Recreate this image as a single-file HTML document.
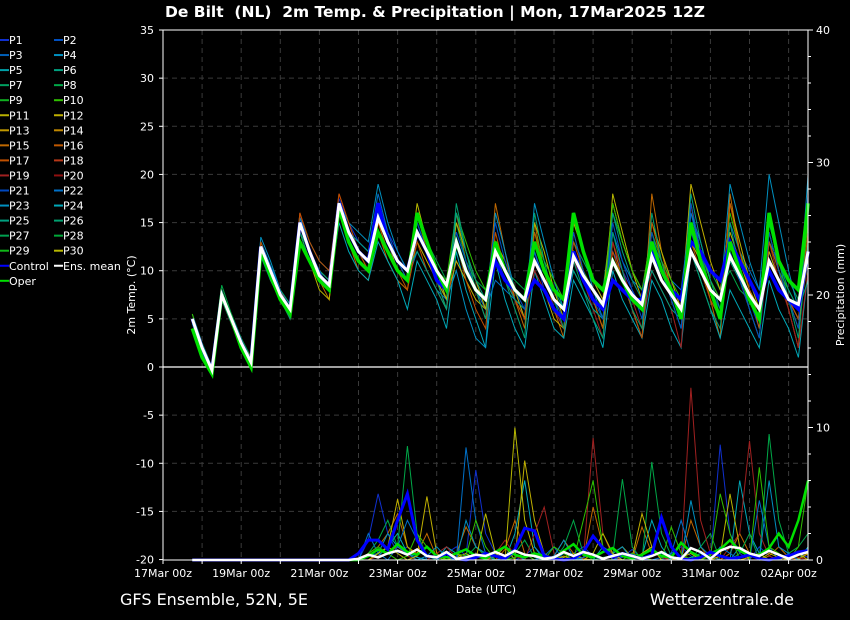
<!DOCTYPE html>
<html><head><meta charset="utf-8">
<style>
html,body{margin:0;padding:0;background:#000;}
svg{display:block;font-family:"DejaVu Sans","Liberation Sans",sans-serif;}
</style></head>
<body>
<svg id="chart" width="850" height="620" viewBox="0 0 850 620" xmlns="http://www.w3.org/2000/svg">
<rect x="0" y="0" width="850" height="620" fill="#000"/>
<text x="435" y="17" fill="#fff" font-size="15.5" font-weight="bold" text-anchor="middle" style="white-space:pre">De Bilt  (NL)  2m Temp. &amp; Precipitation | Mon, 17Mar2025 12Z</text>
<g id="grid"></g>
<g id="precip"></g>
<g id="temps"></g>
<g id="axes"></g>
<g id="legend"></g>
<text x="120" y="605" fill="#fff" font-size="16">GFS Ensemble, 52N, 5E</text>
<text x="794" y="605" fill="#fff" font-size="16" text-anchor="end">Wetterzentrale.de</text>
</svg>
<script>
// ---- data (6-hourly, starting 17Mar 18z) ----
const dateLabels = ["17Mar 00z","19Mar 00z","21Mar 00z","23Mar 00z","25Mar 00z","27Mar 00z","29Mar 00z","31Mar 00z","02Apr 00z"];
const tempTicks = [-20,-15,-10,-5,0,5,10,15,20,25,30,35];
const precipTicks = [0,10,20,30,40];
const memberNames = ["P1","P2","P3","P4","P5","P6","P7","P8","P9","P10","P11","P12","P13","P14","P15","P16","P17","P18","P19","P20","P21","P22","P23","P24","P25","P26","P27","P28","P29","P30"];
const memberColors = ["#1030d0","#0050c0","#0060b8","#0090c0","#00a0a8","#00a080","#00a060","#00a848","#10b020","#30c000","#b8b000","#c0b000","#c09800","#c08800","#c06800","#c05800","#c05000","#b83818","#a02020","#901010","#0048c0","#0070c8","#0090c0","#00a8b8","#00a080","#00a070","#00a050","#00a838","#10b818","#b8b800"];

const ensMean = [5,2,-0.3,7.5,5,2.5,0.5,12.5,10,7.5,6,15,12,9.5,8.5,17,14,12,11,15.5,13,11,10,14,12,10,8.5,13,10,8,7,12,10,8,7,11,9,7,6,11.5,9.5,8,6.5,11,9,7.5,6.5,11.5,9,7.5,6,12,10,8,7,11.5,9.5,7.5,6,11,9,7,6.5,12];
const control = [5,2,-0.3,7.5,5,2.5,0.5,12.5,10,7.5,6,15,12,9.5,8.5,17,14,12,11,17,13,11,10,14,12,9,8,13,10,8,7,11,9,8,7,9,8,6,5,12,9,7,6,9,8,7,7,12,10,8,7,13,12,10,9,13,11,9,7,10,8,7,6,12];
const oper = [4,1,-0.7,7.5,5,2,0,12,9.5,7,5.5,13,11,9,8,16.5,13,11,10,14,12,10,9,16,13,10,8,13,10,8,7,13,10,8,7,13,10,8,7,16,12,9,8,11,9,7,6,13,10,8,5,15,11,8,5,13,10,7,5,16,11,9,8,17];

const m1 = [5,1.5,-0.5,8,5,2,0,12,10,7,5.5,15.5,12,10,9,17.5,15,13,12,17,14,12,10,15,12,9,7,14,11,8,5,13,10,7,5,12,8,6,4,13,11,9,7,12,10,8,6,13,10,8,6,14,11,8,6,13,10,7,4,12,9,7,5,14];
const m2 = [5,2,-0.5,7,4.5,2,0,12,9.5,7,5,16,12,9,7,16,13,10,9,14,11,9,8,16,12,9,6,16,11,8,5,17,12,7,4,15,10,6,3,14,10,7,4,13,9,6,3,18,12,8,5,17,11,7,3,18,12,8,4,16,10,6,2,17];
const m3 = [5,2,0,7.5,5,2.5,0.5,13,10.5,8,6.5,15,12,9,8,15,12,10,9,13,11,9,6,11,9,7,4,12,8,5,2,11,7,4,2,10,7,4,3,9,7,5,2,10,7,5,3,9,7,4,2,12,9,6,3,8,6,4,2,9,6,4,1,10];
const m4 = [5.5,2.5,0,8.5,5.5,3,1,12,10,8,6.5,14,12,10,9,17,14,12,11,15,13,11,10,16,13,11,9,15,11,9,8,12,10,9,8,14,11,9,7,13,11,9,8,16,13,10,8,11,10,8,7,14,12,10,8,10,8,7,6,15,11,9,7,16];
const m5 = [5,2,-0.3,7.5,5,2.5,0.5,12.5,10,7.5,6,15,12,9,8,16,14,12,10,15,13,10,9,13,11,9,7,11,9,7,6,13,10,8,7,9,8,5,4,15,12,9,7,17,13,10,8,12,10,8,6,19,15,11,8,14,11,8,6,12,9,7,5,11];
const m6 = [5,2,-0.5,7,4.5,2,0,12,9.5,7.5,6,16,12,10,9,18,15,12,11,16,13,11,9,14,12,10,8,13,10,8,6,12,9,7,5,10,8,6,4,11,9,6,3,13,10,7,4,10,8,6,2,17,12,8,5,12,9,6,3,13,9,6,2,10];
const m7 = [5,2,0,8,5,2.5,0.5,13.5,11,8,6,15.5,13,11,10,17,15,14,13,19,15,12,10,14,12,10,7,10,6,3,2,16,12,8,5,17,13,9,6,16,12,8,5,11,9,6,3,13,10,7,4,16,13,9,7,19,15,11,8,20,15,10,6,20];
const m8 = [5,1.5,-0.5,7.5,5,2,0.5,12,10,7,5.5,14,11,9,8,16,14,13,12,18,14,11,9,12,10,8,7,13,10,8,6,9,8,7,6,12,9,7,5,10,8,6,5,14,11,9,8,13,11,9,8,16,12,9,7,15,12,10,8,13,11,9,8,16];
const m9 = [5,2,0,8,5,2.5,1,12,9,7,5.5,14,11,8,7,16,13,11,10,15,12,10,9,17,13,10,7,15,12,9,6,13,11,8,5,15,12,8,5,12,10,7,4,18,14,10,7,15,12,9,6,13,11,8,5,17,13,9,6,14,10,7,4,13];
const m10 = [5.5,2,-0.5,8,5,2.5,0.5,12.5,10,7.5,6,15,12,10,9,17,14,12,11,16,13,11,10,14,12,10,9,16,13,10,8,12,10,8,7,14,11,9,7,12,10,8,6,17,13,10,8,14,11,9,7,15,12,9,7,16,12,9,7,13,10,8,6,15];
const m11 = [5,2,0,8,5,2.5,0.5,13,10,8,6,16,13,11,10,18,15,12,10,15,12,10,8,13,10,8,6,13,9,6,4,14,10,7,5,14,10,7,5,13,10,7,4,12,9,6,3,15,11,8,6,13,10,7,5,17,12,8,5,13,10,7,5,14];
const m12 = [4.5,1.5,-0.5,7,4.5,2,0,11.5,9,7,5,14,11,9,8,16,13,11,10,14,12,10,9,15,12,9,6,17,12,8,5,12,9,6,3,16,11,7,4,11,8,5,3,14,10,6,4,16,11,7,4,12,9,6,4,15,10,6,3,16,11,7,3,13];
const m13 = [5,2,0,7.5,5,2.5,0.5,12.5,10,8,6.5,15,12,10,9,17,14,13,12,16,13,11,10,12,10,8,6,16,12,9,7,11,9,7,6,13,10,8,6,10,8,6,5,16,12,9,7,10,8,6,5,18,13,9,6,11,9,7,5,15,11,8,6,9];
const m14 = [5,2,-0.5,8,5,2,0.5,12,10,7.5,6,15,12,10,8,17,14,12,11,16,14,11,10,15,12,10,8,14,11,8,7,15,11,8,6,13,10,7,5,14,10,7,5,15,11,8,5,14,10,7,4,17,12,8,5,12,9,6,3,14,10,7,4,18];

const precipMean = [0,0,0,0,0,0,0,0,0,0,0,0,0,0,0,0,0,0.1,0.4,0.2,0.5,0.7,0.4,0.8,0.3,0.2,0.6,0.1,0.2,0.4,0.3,0.6,0.3,0.7,0.4,0.3,0.1,0.2,0.6,0.3,0.6,0.4,0.1,0.3,0.5,0.3,0.1,0.3,0.6,0.2,0.1,0.9,0.6,0.1,0.7,1.0,0.9,0.5,0.3,0.7,0.4,0.1,0.4,0.6];
const precipControl = [0,0,0,0,0,0,0,0,0,0,0,0,0,0,0,0,0,0.5,1.5,1.5,0.8,3,5,1.5,0.3,0.2,0.5,0.1,0,0.2,0.5,0.3,0.1,0.8,2.4,2.2,0.3,0.1,0,0.1,0.6,1.8,0.9,0.2,0.5,0.3,0.1,0.4,3.2,1.0,0.1,0,0.2,0.6,0.3,0.1,0.2,0.4,0.1,0,0.2,0.3,0.6,0.7];
const precipOper = [0,0,0,0,0,0,0,0,0,0,0,0,0,0,0,0,0,0,0.3,0.8,0.5,1.2,0.6,0.4,1.0,0.3,0.2,0.5,0.8,0.3,0.1,0.6,1.0,0.4,0.2,0.5,0.3,0.1,0.7,1.2,0.4,0.2,0.6,0.9,0.3,0.1,0.4,0.8,0.3,0.2,1.3,0.6,0.2,0.5,0.8,1.5,0.7,0.3,0.4,0.9,2.0,1.0,3.0,6.0];
const p1 = [0,0,0,0,0,0,0,0,0,0,0,0,0,0,0,0,0,0,1.5,5,2,0.5,1,0.2,0,0,0.5,1,0.3,6.8,2,0.5,0,0,0.3,1,0.2,0,0,0.5,1,0.3,0,0,0.2,0.8,0.1,0,0,0.5,1,0.3,0,0,8.7,2,0.5,0,1,0.3,0,0,0.5,0.2];
const p2 = [0,0,0,0,0,0,0,0,0,0,0,0,0,0,0,0,0,0,0.5,1,2,3.5,1,0.5,2,0.2,0,0.5,2.5,1,0.3,0,0.8,3,0.5,0,0,0.3,1.5,0.5,0,4,1,0.2,0,0,2.5,0.5,0.3,0,0,3,1,0,0,0.5,2,0.5,0,0.3,1,0.2,0,0.5];
const p3 = [0,0,0,0,0,0,0,0,0,0,0,0,0,0,0,0,0,0,0,0.3,1,2,0.5,0.2,0,0,1,0.5,0,0.2,0.3,0,0,2,6,1,0,0,0.5,0.3,0,0,1,0.5,0,0,0.3,3,1,0,0,0.2,0.5,0,0,0,6,2,0.5,0,0.3,0,0,1];
const p4 = [0,0,0,0,0,0,0,0,0,0,0,0,0,0,0,0,0,0,0.5,1.5,3,1,8.6,2,0.3,0,0.5,0,0.2,1,0.3,0,0,0.5,1.5,0.2,0,0,1,3,0.5,0,0.2,0.3,6.1,1,0,7.4,2,0.3,0,0,1,2,0,0,0.5,2,0,9.5,3,0.5,1,2];
const p5 = [0,0,0,0,0,0,0,0,0,0,0,0,0,0,0,0,0,0,0,0.5,1,4.6,1,0.3,4.8,0.5,0,0.2,0.5,0,0,0.3,1,0,7.5,3,0.5,0,0.2,0.5,0.1,0,0,0.5,1,0.2,3.5,1,0,0,0.3,0,0,0.5,0.3,0,0,0.2,0.5,0,0,0.3,0.1,0.5];
const p6 = [0,0,0,0,0,0,0,0,0,0,0,0,0,0,0,0,0,0,0,0.3,0.5,1,0.3,0,0,0.5,1,0.2,0,0,0,0.5,1.5,0.3,0,2,4,0.5,0,0,0,9.2,2,0.3,0,0,0.5,1,0.2,0,0,13,3,0.5,0,1,2,9,2,0.3,0,0.5,0.2,0];
const p7 = [0,0,0,0,0,0,0,0,0,0,0,0,0,0,0,0,0,0,0.3,0.5,2,1,0.5,0,0.3,1,0.2,0,3,1,0.5,0,0,0.2,0.5,0,0,0.3,1.5,0.2,0,0,0,0.5,1,0,0,0.3,0.5,0,0,4.5,1,0.3,0,0,1,0.5,0,6,1,0.5,0,0];
const p8 = [0,0,0,0,0,0,0,0,0,0,0,0,0,0,0,0,0,0,2,0.5,0,1,3,1.5,0,0,0.5,0,8.5,3,0.5,0,0.2,0.5,0,0,0.3,1,0,0,0.2,0.5,0,0,0.3,0.5,0,0,0.2,0.5,3,0.5,0,0,1,0.5,0,0,4.5,1,0,0.5,0,0];
const p9 = [0,0,0,0,0,0,0,0,0,0,0,0,0,0,0,0,0,0,0,0.5,1,0.5,0,0.3,1,0.2,0,0.5,0,0,3.5,0.5,0,10,3,0.5,0,0,0.3,0,0,0.5,2,0.5,0,0,0.5,1,0,0,0.2,0.5,0,0,0.3,5,1,0,0,0.5,0.2,0,0.5,0];
const p10 = [0,0,0,0,0,0,0,0,0,0,0,0,0,0,0,0,0,0,0.5,1,0.5,0,0.3,2,1,0.2,0,0.5,0.3,3,1,0,0,0.2,0.5,0,0,1,0.5,0,3,6,1,0,0,0.5,0.3,0,0,2.5,0.5,0,0,0.3,5,2,0,0,7,1,0.5,0,1,6];

const membersT = [m1,m2,m3,m4,m5,m6,m7,m8,m9,m10,m11,m12,m13,m14];
const membersP = [p1,p2,p3,p4,p5,p6,p7,p8,p9,p10];
const memberIdx = [0,14,23,7,11,18,3,21,29,9,16,25,5,1];

// ---- axes functions ----
const X0 = 163, DAYPX = 39.1, X1 = 808, Y0 = 30, Y1 = 560;
const xOf = i => X0 + (0.75 + 0.25 * i) * DAYPX;
const yT = t => 367 - t * (337 / 35);
const yP = p => Y1 - p * (530 / 40);
const NS = "http://www.w3.org/2000/svg";
function mk(tag, attrs, parent) { const e = document.createElementNS(NS, tag); for (const k in attrs) e.setAttribute(k, attrs[k]); parent.appendChild(e); return e; }
const grid = document.getElementById('grid'), axes = document.getElementById('axes');
const temps = document.getElementById('temps'), precip = document.getElementById('precip'), legend = document.getElementById('legend');

tempTicks.forEach(t => {
  if (t === 0 || t === 35 || t === -20) return;
  const l = mk('line', {x1: X0, x2: X1, y1: yT(t), y2: yT(t), stroke: '#3a3a3a', 'stroke-dasharray': '5,4', 'stroke-width': 1}, grid);
  
  
});
for (let d = 1; d <= 16; d++) {
  const x = X0 + d * DAYPX;
  const l = mk('line', {x1: x, x2: x, y1: Y0, y2: Y1, stroke: '#3a3a3a', 'stroke-dasharray': '5,4', 'stroke-width': 1}, grid);
  
  
}
const zl = mk('line', {x1: X0, x2: X1, y1: yT(0), y2: yT(0), stroke: '#fff', 'stroke-width': 1.2}, grid);



function poly(arr, yf, color, w, parent, name) {
  const pts = arr.map((v, i) => xOf(i).toFixed(1) + ',' + yf(v).toFixed(1)).join(' ');
  const p = mk('polyline', {points: pts, fill: 'none', stroke: color, 'stroke-width': w, 'stroke-linejoin': 'miter'}, parent);
  
  
}
membersP.forEach((a, k) => poly(a, yP, memberColors[memberIdx[k]], 1, precip, 'precip-' + memberNames[memberIdx[k]].toLowerCase()));
poly(precipOper, yP, '#00e000', 2.5, precip, 'precip-oper');
poly(precipControl, yP, '#0000ff', 3, precip, 'precip-control');
poly(precipMean, yP, '#ffffff', 2.5, precip, 'precip-ens-mean');
membersT.forEach((a, k) => poly(a, yT, memberColors[memberIdx[k]], 1, temps, 'temp-' + memberNames[memberIdx[k]].toLowerCase()));
poly(control, yT, '#0000ff', 3.5, temps, 'temp-control');
poly(oper, yT, '#00e000', 3.5, temps, 'temp-oper');
poly(ensMean, yT, '#ffffff', 3, temps, 'temp-ens-mean');

const fr = mk('rect', {x: X0, y: Y0, width: X1 - X0, height: Y1 - Y0, fill: 'none', stroke: '#fff', 'stroke-width': 1}, axes);


tempTicks.forEach(t => {
  const tx = mk('text', {x: 154, y: yT(t) + 4, fill: '#fff', 'font-size': 11, 'text-anchor': 'end'}, axes);
  tx.textContent = t;
  
  
  mk('line', {x1: X0 - 4, x2: X0, y1: yT(t), y2: yT(t), stroke: '#fff'}, axes);
});
precipTicks.forEach(p => {
  const tx = mk('text', {x: 816, y: yP(p) + 4, fill: '#fff', 'font-size': 11}, axes);
  tx.textContent = p;
  
  
  mk('line', {x1: X1, x2: X1 + 5, y1: yP(p), y2: yP(p), stroke: '#fff'}, axes);
});
for (let p = 2; p < 40; p += 2) { if (p % 10) mk('line', {x1: X1, x2: X1 + 3, y1: yP(p), y2: yP(p), stroke: '#fff'}, axes); }
dateLabels.forEach((lab, k) => {
  const x = X0 + k * 2 * DAYPX;
  const tx = mk('text', {x: x, y: 577, fill: '#fff', 'font-size': 11, 'text-anchor': 'middle'}, axes);
  tx.textContent = lab;
  
  
});
for (let d = 0; d <= 16; d++) mk('line', {x1: X0 + d * DAYPX, x2: X0 + d * DAYPX, y1: Y1, y2: Y1 + 4, stroke: '#fff'}, axes);
const xt = mk('text', {x: 486, y: 593, fill: '#fff', 'font-size': 11, 'text-anchor': 'middle'}, axes);
xt.textContent = 'Date (UTC)';


const yt = mk('text', {x: 0, y: 0, fill: '#fff', 'font-size': 11, 'text-anchor': 'middle', transform: 'translate(135,295) rotate(-90)'}, axes);
yt.textContent = '2m Temp. (°C)';


const y2t = mk('text', {x: 0, y: 0, fill: '#fff', 'font-size': 11, 'text-anchor': 'middle', transform: 'translate(844,295) rotate(-90)'}, axes);
y2t.textContent = 'Precipitation (mm)';



const legendItems = memberNames.map((n, i) => [n, memberColors[i]]).concat([['Control', '#0000ff'], ['Ens. mean', '#ffffff'], ['Oper', '#00e000']]);
legendItems.forEach((it, i) => {
  const col = i % 2, row = Math.floor(i / 2);
  const x = col ? 54 : 0, y = 40 + row * 15.05;
  const g = mk('g', {}, legend);
  
  
  mk('line', {x1: x, x2: x + 9, y1: y, y2: y, stroke: it[1], 'stroke-width': 2}, g);
  const t = mk('text', {x: x + 9, y: y + 4, fill: '#fff', 'font-size': 11}, g);
  t.textContent = it[0];
});
</script>
</body></html>
